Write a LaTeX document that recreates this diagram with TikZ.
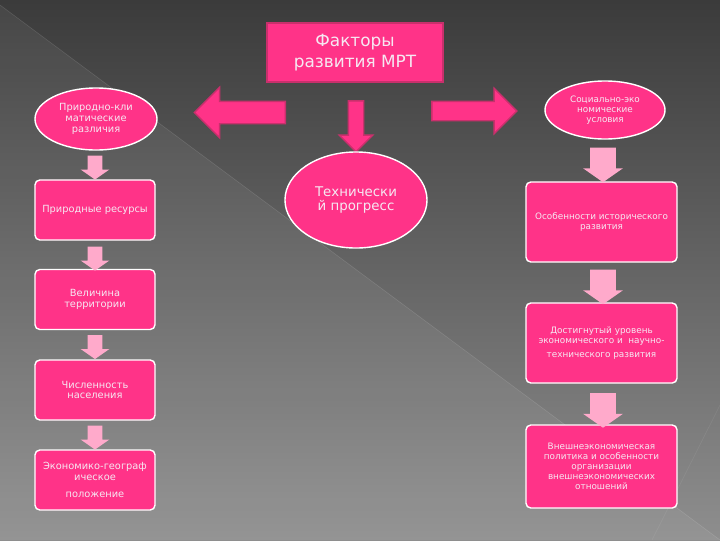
\documentclass[tikz,border=0pt]{standalone}
\usepackage{fontspec}
\setmainfont{DejaVu Sans}
\usetikzlibrary{shapes.geometric,shapes.arrows}

\definecolor{hotpink}{HTML}{FF3388}
\definecolor{darkpink}{HTML}{C8306C}
\definecolor{lightpink}{HTML}{FFAACB}
\definecolor{paletext}{HTML}{F6E8F2}
\definecolor{bgtop}{HTML}{3B3B3B}
\definecolor{bgbottom}{HTML}{8E8E8E}

\tikzset{%
  factor box/.style={
    rectangle,
    fill=hotpink,
    draw=darkpink,
    line width=1.2pt,
    text=paletext,
    align=center
  },
  factor oval/.style={
    ellipse,
    fill=hotpink,
    draw=white,
    line width=1pt,
    text=paletext,
    align=center,
    inner sep=0pt
  },
  item box/.style={
    rectangle,
    rounded corners=0.12cm,
    fill=hotpink,
    draw=white,
    line width=1pt,
    text=paletext,
    align=center,
    inner sep=1pt
  },
  big arrow/.style={
    single arrow,
    single arrow head indent=0pt,
    fill=hotpink,
    draw=darkpink,
    line width=1pt
  },
  flow arrow/.style={
    single arrow,
    single arrow tip angle=110,
    fill=lightpink,
    draw=none,
    shape border rotate=270
  },
}

\begin{document}
\begin{tikzpicture}[x=0.025cm, y=-0.025cm]
  \useasboundingbox (0,0) rectangle (720,540);
  \fill [top color=bgtop, bottom color=bgbottom] (0,0) rectangle (720,540);
  \fill [white, opacity=0.06] (0,5) -- (720,540) -- (0,540) -- cycle;
  \draw [white, opacity=0.12] (0,5) -- (720,540);
  \draw [white, opacity=0.08] (720,405) -- (652,540);

  \node [factor box, minimum width=4.4cm, minimum height=1.475cm, font=\fontsize{12}{15}\selectfont] (title) at (355,52.5) {Факторы\\развития МРТ};

  \node [big arrow, minimum height=2.275cm, inner sep=0.2625cm, single arrow head extend=0.35cm, shape border rotate=180] (arr-L) at (245.5,112.5) {};
  \node [big arrow, minimum height=1.275cm, inner sep=0.175cm, single arrow head extend=0.225cm, shape border rotate=270] (arr-D) at (356,122.5) {};
  \node [big arrow, minimum height=2.125cm, inner sep=0.225cm, single arrow head extend=0.325cm] (arr-R) at (469.5,111) {};

  \node [factor oval, minimum width=3.05cm, minimum height=1.55cm, font=\fontsize{7}{7.6}\selectfont] (nat-0) at (96,119) {Природно-кли\\матические\\различия};
  \node [factor oval, minimum width=3.55cm, minimum height=2.4cm, font=\fontsize{9.5}{10.5}\selectfont] (tech) at (356,200) {Технически\\й прогресс};
  \node [factor oval, minimum width=3cm, minimum height=1.45cm, font=\fontsize{6.3}{7.2}\selectfont] (soc-0) at (605,110) {Социально-эко\\номические\\условия};

  % left column
  \node [item box, minimum width=3cm, minimum height=1.5cm, font=\fontsize{7}{7.6}\selectfont] (nat-1) at (95,210) {Природные ресурсы};
  \node [item box, minimum width=3cm, minimum height=1.5cm, font=\fontsize{7}{7.6}\selectfont] (nat-2) at (95,299.5) {Величина\\территории};
  \node [item box, minimum width=3cm, minimum height=1.5cm, font=\fontsize{7}{7.6}\selectfont] (nat-3) at (95,390) {Численность\\населения};
  \node [item box, minimum width=3cm, minimum height=1.5cm, font=\fontsize{7}{7.6}\selectfont] (nat-4) at (95,480) {Экономико-географ\\ическое\\[5pt]положение};

  % right column
  \node [item box, minimum width=3.775cm, minimum height=2cm, font=\fontsize{6.3}{7.2}\selectfont] (soc-1) at (601.5,222) {Особенности исторического\\развития};
  \node [item box, minimum width=3.775cm, minimum height=2cm, font=\fontsize{6.3}{7.2}\selectfont] (soc-2) at (601.5,343) {Достигнутый уровень\\экономического и~~научно-\\[3pt]технического развития};
  \node [item box, minimum width=3.775cm, minimum height=2.075cm, font=\fontsize{6.3}{7.2}\selectfont] (soc-3) at (601.5,466.5) {Внешнеэкономическая\\политика и особенности\\организации\\внешнеэкономических\\отношений};

  \node [flow arrow, minimum height=0.6cm, inner sep=0.175cm, single arrow head extend=0.175cm] (fl-1) at (95,165) {};
  \node [flow arrow, minimum height=0.6cm, inner sep=0.175cm, single arrow head extend=0.175cm] (fl-2) at (95,256) {};
  \node [flow arrow, minimum height=0.6cm, inner sep=0.175cm, single arrow head extend=0.175cm] (fl-3) at (95,344.5) {};
  \node [flow arrow, minimum height=0.6cm, inner sep=0.175cm, single arrow head extend=0.175cm] (fl-4) at (95,435) {};
  \node [flow arrow, minimum height=0.775cm, inner sep=0.3125cm, single arrow head extend=0.175cm] (fr-1) at (603,160.5) {};
  \node [flow arrow, minimum height=0.775cm, inner sep=0.3125cm, single arrow head extend=0.175cm] (fr-2) at (603,282.5) {};
  \node [flow arrow, minimum height=0.775cm, inner sep=0.3125cm, single arrow head extend=0.175cm] (fr-3) at (603,406) {};
\end{tikzpicture}
\end{document}
